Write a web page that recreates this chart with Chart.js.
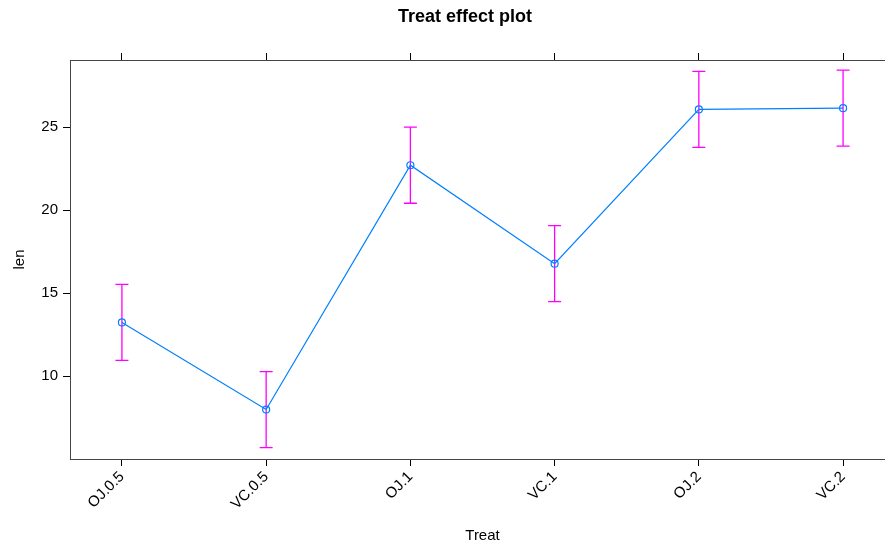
<!DOCTYPE html>
<html>
<head>
<meta charset="utf-8">
<script src="https://cdn.jsdelivr.net/npm/chart.js@4.4.1/dist/chart.umd.min.js"></script>
<style>
  html, body { margin: 0; padding: 0; background: #fff; overflow: hidden; }
  #wrap { width: 885px; height: 544px; overflow: hidden; }
</style>
</head>
<body>
<div id="wrap"><canvas id="myChart" width="930" height="544"></canvas></div>
<script>
// effect estimates for each Treat level, with lower / upper confidence limits
const categories = ['OJ.0.5', 'VC.0.5', 'OJ.1', 'VC.1', 'OJ.2', 'VC.2'];
const fitValues = [13.23, 7.98, 22.70, 16.77, 26.06, 26.14];
const lowerValues = [10.94, 5.69, 20.41, 14.48, 23.77, 23.85];
const upperValues = [15.52, 10.27, 24.99, 19.06, 28.35, 28.43];
const yTicks = [10, 15, 20, 25];

Chart.defaults.font.family = '"Liberation Sans", Arial, Helvetica, sans-serif';
Chart.defaults.color = '#000';

// vertical error bars with caps, drawn below the line
const errorBars = {
  id: 'errorBars',
  beforeDatasetsDraw(chart) {
    const ctx = chart.ctx;
    const xs = chart.scales.x, ys = chart.scales.y;
    ctx.save();
    ctx.strokeStyle = '#ff00ff';
    ctx.lineWidth = 1.3;
    for (let i = 0; i < categories.length; i++) {
      const px = xs.getPixelForValue(i);
      const lo = ys.getPixelForValue(lowerValues[i]);
      const hi = ys.getPixelForValue(upperValues[i]);
      ctx.beginPath();
      ctx.moveTo(px, lo); ctx.lineTo(px, hi);
      ctx.moveTo(px - 6.5, lo); ctx.lineTo(px + 6.5, lo);
      ctx.moveTo(px - 6.5, hi); ctx.lineTo(px + 6.5, hi);
      ctx.stroke();
    }
    ctx.restore();
  }
};

const catTicks = scale => { scale.ticks = categories.map((c, i) => ({ value: i })); };

var ctx = document.getElementById('myChart').getContext('2d');
var chart = new Chart(ctx, {
  type: 'line',
  data: {
    datasets: [{
      data: fitValues.map((v, i) => ({ x: i, y: v })),
      borderColor: '#0080ff',
      borderWidth: 1.2,
      backgroundColor: 'rgba(0,0,0,0)',
      pointRadius: 3.5,
      pointBorderWidth: 1.2,
      pointBorderColor: '#0080ff',
      pointBackgroundColor: 'rgba(0,0,0,0)',
      tension: 0
    }]
  },
  plugins: [errorBars],
  options: {
    responsive: false,
    animation: false,
    devicePixelRatio: 1,
    layout: { padding: { left: 35, right: 35, top: 0, bottom: 0 } },
    plugins: {
      legend: { display: false },
      tooltip: { enabled: false },
      title: {
        display: true,
        text: 'Treat effect plot',
        font: { size: 18, weight: 'bold' },
        padding: { top: 6, bottom: 0 }
      }
    },
    scales: {
      x: {
        type: 'linear',
        position: 'bottom',
        min: -0.36,
        max: 5.36,
        afterBuildTicks: catTicks,
        afterFit: s => { s.height = 85; },
        grid: { drawOnChartArea: false, drawTicks: true, tickLength: 7, tickColor: '#000' },
        border: { display: true, color: '#444', width: 1 },
        ticks: {
          font: { size: 15 },
          minRotation: 45,
          maxRotation: 45,
          padding: 2,
          callback: v => categories[v]
        },
        title: { display: true, text: 'Treat', font: { size: 15 }, padding: { top: 4, bottom: -1 } }
      },
      xTop: {
        type: 'linear',
        position: 'top',
        min: -0.36,
        max: 5.36,
        afterBuildTicks: catTicks,
        afterFit: s => { s.height = 32.4; },
        grid: { drawOnChartArea: false, drawTicks: true, tickLength: 7, tickColor: '#000' },
        border: { display: true, color: '#444', width: 1 },
        ticks: { callback: () => '' }
      },
      y: {
        min: 5.0,
        max: 29.04,
        afterBuildTicks: s => { s.ticks = yTicks.map(v => ({ value: v })); },
        afterFit: s => { s.width = 35; },
        grid: { drawOnChartArea: false, drawTicks: true, tickLength: 7, tickColor: '#000' },
        border: { display: true, color: '#444', width: 1 },
        ticks: { font: { size: 15 }, padding: 5 },
        title: { display: true, text: 'len', font: { size: 15 }, padding: { top: -24, bottom: 2 } }
      }
    }
  }
});
</script>
</body>
</html>
